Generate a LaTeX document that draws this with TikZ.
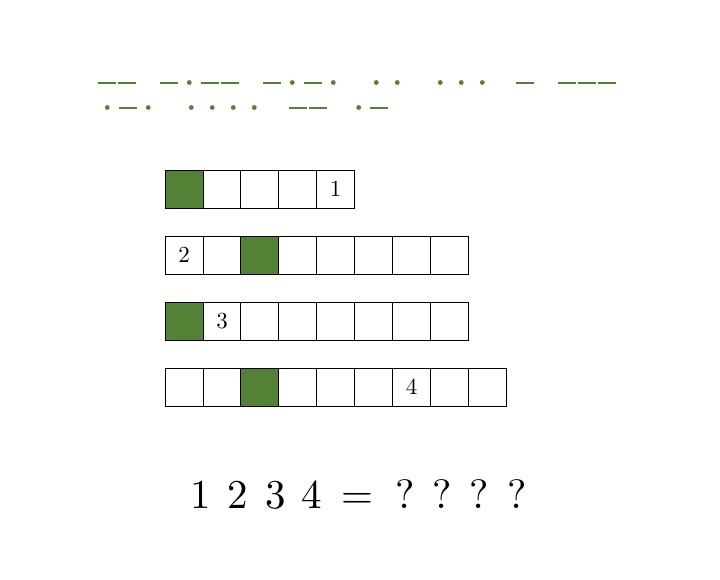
\documentclass[tikz,border=0pt]{standalone}
\usepackage{fontspec}
\newfontfamily\lmten{lmroman10-regular}[Extension=.otf]
\definecolor{mgreen}{RGB}{83,129,53}
\tikzset{
  dashseg/.style={draw=mgreen, line width=1.6pt},
  dotmark/.style={fill=mgreen},
  cellbox/.style={draw=black, line width=0.8pt},
  cellgreen/.style={cellbox, fill=mgreen},
  celltext/.style={font=\lmten\fontsize{23}{27}\selectfont, inner sep=0pt},
  bigtext/.style={font=\lmten\fontsize{41}{48}\selectfont, inner sep=0pt, anchor=base}
}
\begin{document}
\begin{tikzpicture}[x=1pt,y=-1pt]
\useasboundingbox (0,0) rectangle (720,580);
% Morse row 1
\def\ya{83.2}
\def\yad{82.5}
\foreach \a in {98, 118, 160, 201, 221, 263, 304, 516, 558, 578, 598}
  \draw[dashseg] (\a,\ya) -- ++(18,0);
\foreach \c in {189.3, 292.3, 333.3, 376.3, 397.3, 440.3, 461.3, 482.3}
  \fill[dotmark] (\c,\yad) circle (2.4);
% Morse row 2
\def\yb{108.3}
\def\ybd{107.5}
\foreach \a in {119, 289, 309, 370.4}
  \draw[dashseg] (\a,\yb) -- ++(18,0);
\foreach \c in {107.3, 148.3, 191.3, 212.3, 233.3, 254.3, 358.7}
  \fill[dotmark] (\c,\ybd) circle (2.4);
% grids
\foreach \y/\n/\g in {170/5/0, 236/8/2, 302/8/0, 368/9/2} {
  \foreach \i in {1,...,\n} {
    \pgfmathsetmacro{\xx}{165+(\i-1)*37.9}
    \draw[cellbox] (\xx,\y) rectangle ++(37.9,38);
  }
  \pgfmathsetmacro{\gx}{165+\g*37.9}
  \draw[cellgreen] (\gx,\y) rectangle ++(37.9,38);
}
\node[celltext] (n1) at (335.5,189) {1};
\node[celltext] (n2) at (184,255) {2};
\node[celltext] (n3) at (222,321) {3};
\node[celltext] (n4) at (411.7,387) {4};
% bottom equation
\node[bigtext] (b1) at (201,508) {1};
\node[bigtext] (b2) at (238,508) {2};
\node[bigtext] (b3) at (276,508) {3};
\node[bigtext] (b4) at (312,508) {4};
\node[bigtext] (beq) at (357,508) {=};
\node[bigtext] (q1) at (405,508) {?};
\node[bigtext] (q2) at (442,508) {?};
\node[bigtext] (q3) at (479,508) {?};
\node[bigtext] (q4) at (517,508) {?};
\end{tikzpicture}
\end{document}
